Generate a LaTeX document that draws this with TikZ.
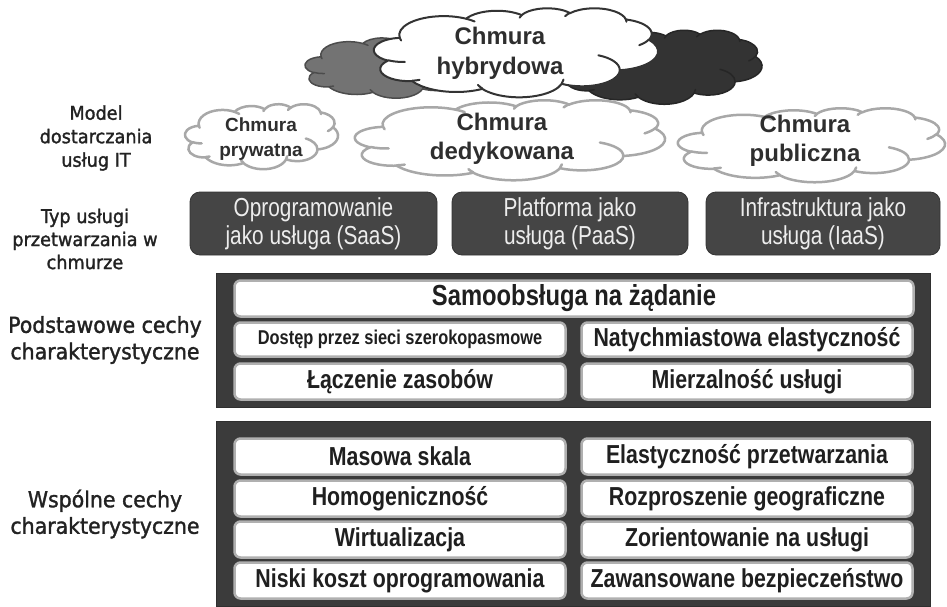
\documentclass[tikz,border=0pt]{standalone}
\usepackage{fontspec}
\setmainfont{Liberation Sans}
\newfontfamily\labfont{DejaVu Sans}[FakeStretch=0.93,FakeBold=1.5]
\newfontfamily\narrowfont{Liberation Sans}[FakeStretch=0.82]
\newfontfamily\servfont{Liberation Sans}[FakeStretch=0.8]
\definecolor{panelgray}{HTML}{3B3B3B}
\definecolor{servgray}{HTML}{454545}
\definecolor{labgray}{HTML}{222222}
\definecolor{rimgray}{HTML}{B0B0B0}
\definecolor{cloudrim}{HTML}{A8A8A8}

% one elliptic arc given by ray angles (start, sweep) in a y-down frame
\newcommand\cloudarc[4]{%
  \pgfextra{%
    \pgfmathsetmacro\cloudarcA{atan2(#1*sin(#3),#2*cos(#3))}%
    \pgfmathsetmacro\cloudarcB{atan2(#1*sin(#3+#4),#2*cos(#3+#4))}%
    \pgfmathsetmacro\cloudarcD{mod(\cloudarcB-\cloudarcA+720,360)}%
    \global\let\cloudarcS\cloudarcA \global\let\cloudarcT\cloudarcD}%
  arc[start angle=\cloudarcS, delta angle=\cloudarcT, x radius=#1, y radius=#2]}

% cloud outline in a 432 x 432 box
\newcommand\cloudoutline{(39.00,143.70)
  \cloudarc{67.53}{91.90}{-190.4875}{123.7805}
  \cloudarc{53.33}{72.67}{-144.1024}{89.9452}
  \cloudarc{43.65}{59.45}{-145.8079}{99.7230}
  \cloudarc{48.57}{65.95}{-130.9861}{117.2417}
  \cloudarc{53.33}{72.73}{-78.7089}{109.0269}
  \cloudarc{67.75}{92.20}{-46.2673}{130.2690}
  \cloudarc{57.85}{78.67}{0.6250}{114.0333}
  \cloudarc{67.52}{92.15}{22.4516}{115.1726}
  \cloudarc{77.20}{105.43}{66.2426}{75.7110}
  \cloudarc{43.60}{59.18}{-274.9421}{146.7356}
  \cloudarc{43.45}{59.45}{-246.8285}{152.5189} -- cycle}

% small hooks inside the cloud
\newcommand\cloudinner{%
  (46.93,261.77) \cloudarc{43.45}{59.45}{86.7420}{26.4295}
  (69.28,348.99) \cloudarc{43.60}{59.18}{73.6105}{11.4475}
  (164.78,390.90) \cloudarc{67.52}{92.15}{137.6242}{14.0811}
  (288.27,347.51) \cloudarc{67.52}{92.15}{6.4533}{15.9984}
  (341.29,229.54) \cloudarc{57.85}{78.67}{-70.2924}{70.9174}
  (417.98,153.54) \cloudarc{53.33}{72.73}{30.3180}{27.7515}
  (383.24,54.26) \cloudarc{48.57}{65.95}{-13.7443}{14.8589}
  (290.78,39.52) \cloudarc{48.57}{65.95}{-149.1815}{18.1954}
  (221.41,47.20) \cloudarc{43.65}{59.45}{-163.4943}{17.6864}
  (140.00,51.92) \cloudarc{67.53}{91.90}{-66.7070}{12.3194}
  (41.27,157.89) \cloudarc{67.53}{91.90}{157.6544}{11.8582}}

% #1 left, #2 top, #3 width, #4 height, #5 style
\newcommand\drawcloud[5]{%
  \begin{scope}[shift={(#1,#2)}, xscale=#3/432, yscale=#4/432]
    \path[line join=round, #5] \cloudoutline;
    \path[line cap=round, #5, fill=none] \cloudinner;
  \end{scope}}

\tikzset{
  sidelabel/.style={align=center, text=labgray, inner sep=0pt},
  panel/.style={fill=panelgray, draw=panelgray!80!black, line width=1pt, anchor=north west, inner sep=0pt},
  featbox/.style={fill=white, draw=rimgray, line width=2.5pt, rounded corners=6pt,
    inner sep=0pt, text=black!88, font=\narrowfont\bfseries\fontsize{26}{28}\selectfont},
  servbox/.style={fill=servgray, draw=black!80, line width=0.8pt, rounded corners=10pt,
    minimum height=63, inner sep=0pt, align=center, text=white!93!black,
    font=\servfont\fontsize{26}{28}\selectfont},
  modelcloud/.style={fill=white, draw=cloudrim, line width=2.5pt},
  cloudtext/.style={align=center, inner sep=0pt, text=black!82, font=\bfseries\fontsize{24}{29}\selectfont},
}
\begin{document}
\begin{tikzpicture}[x=1pt, y=-1pt]
\useasboundingbox (0,0) rectangle (947,607);

% hybrid cloud: two shaded clouds behind a white one
\drawcloud{305}{36}{178}{62}{fill=black!55, draw=black!70, line width=1.5pt}
\drawcloud{562}{30}{200}{74}{fill=black!80, draw=black!85, line width=1.5pt}
\drawcloud{374}{8}{284}{89}{fill=white, draw=black!80, line width=2pt}
\node[cloudtext, font=\bfseries\fontsize{24}{30}\selectfont] (hybt) at (500,53) {Chmura\\hybrydowa};

% delivery-model clouds
\drawcloud{185}{104}{153}{65}{modelcloud}
\node[cloudtext, font=\bfseries\fontsize{19}{25}\selectfont] (privt) at (261,139) {Chmura\\prywatna};
\drawcloud{355}{100}{310}{80}{modelcloud}
\node[cloudtext] (dedt) at (502,139) {Chmura\\dedykowana};
\drawcloud{678}{108}{267}{74}{modelcloud}
\node[cloudtext] (pubt) at (805,141) {Chmura\\publiczna};

% service models
\node[servbox, minimum width=247] (saas) at (313.5,223.5) {Oprogramowanie\\jako usługa (SaaS)};
\node[servbox, minimum width=236] (paas) at (570,223.5) {Platforma jako\\usługa (PaaS)};
\node[servbox, minimum width=234] (iaas) at (823,223.5) {Infrastruktura jako\\usługa (IaaS)};

% essential characteristics
\node[panel, minimum width=714, minimum height=134] (ess) at (216,273) {};
\node[featbox, minimum width=679, minimum height=36, font=\narrowfont\bfseries\fontsize{29}{31}\selectfont] (selfs) at (574,298.5) {Samoobsługa na żądanie};
\node[featbox, minimum width=331, minimum height=34, font=\narrowfont\bfseries\fontsize{20}{22}\selectfont] (broad) at (400,339.5) {Dostęp przez sieci szerokopasmowe};
\node[featbox, minimum width=331, minimum height=34] (elast) at (747,339.5) {Natychmiastowa elastyczność};
\node[featbox, minimum width=331, minimum height=36] (pool) at (400,381.5) {Łączenie zasobów};
\node[featbox, minimum width=331, minimum height=36] (meas) at (747,381.5) {Mierzalność usługi};

% common characteristics
\node[panel, minimum width=714, minimum height=185] (com) at (216,421) {};
\node[featbox, minimum width=331, minimum height=36] (c1l) at (400,456.5) {Masowa skala};
\node[featbox, minimum width=331, minimum height=36] (c1r) at (747,456.5) {Elastyczność przetwarzania};
\node[featbox, minimum width=331, minimum height=36] (c2l) at (400,498.5) {Homogeniczność};
\node[featbox, minimum width=331, minimum height=36] (c2r) at (747,498.5) {Rozproszenie geograficzne};
\node[featbox, minimum width=331, minimum height=36] (c3l) at (400,539.5) {Wirtualizacja};
\node[featbox, minimum width=331, minimum height=36] (c3r) at (747,539.5) {Zorientowanie na usługi};
\node[featbox, minimum width=331, minimum height=36] (c4l) at (400,580.5) {Niski koszt oprogramowania};
\node[featbox, minimum width=331, minimum height=36] (c4r) at (747,580.5) {Zawansowane bezpieczeństwo};

% row labels
\node[sidelabel, font=\labfont\fontsize{19}{23.5}\selectfont] (lmodel) at (96,138) {Model\\dostarczania\\usług IT};
\node[sidelabel, font=\labfont\fontsize{19}{23}\selectfont] (ltype) at (85,239) {Typ usługi\\przetwarzania w\\chmurze};
\node[sidelabel, font=\labfont\fontsize{22}{26.5}\selectfont] (lbasic) at (105,340) {Podstawowe cechy\\charakterystyczne};
\node[sidelabel, font=\labfont\fontsize{22}{26.5}\selectfont] (lcommon) at (105,514) {Wspólne cechy\\charakterystyczne};
\end{tikzpicture}
\end{document}
